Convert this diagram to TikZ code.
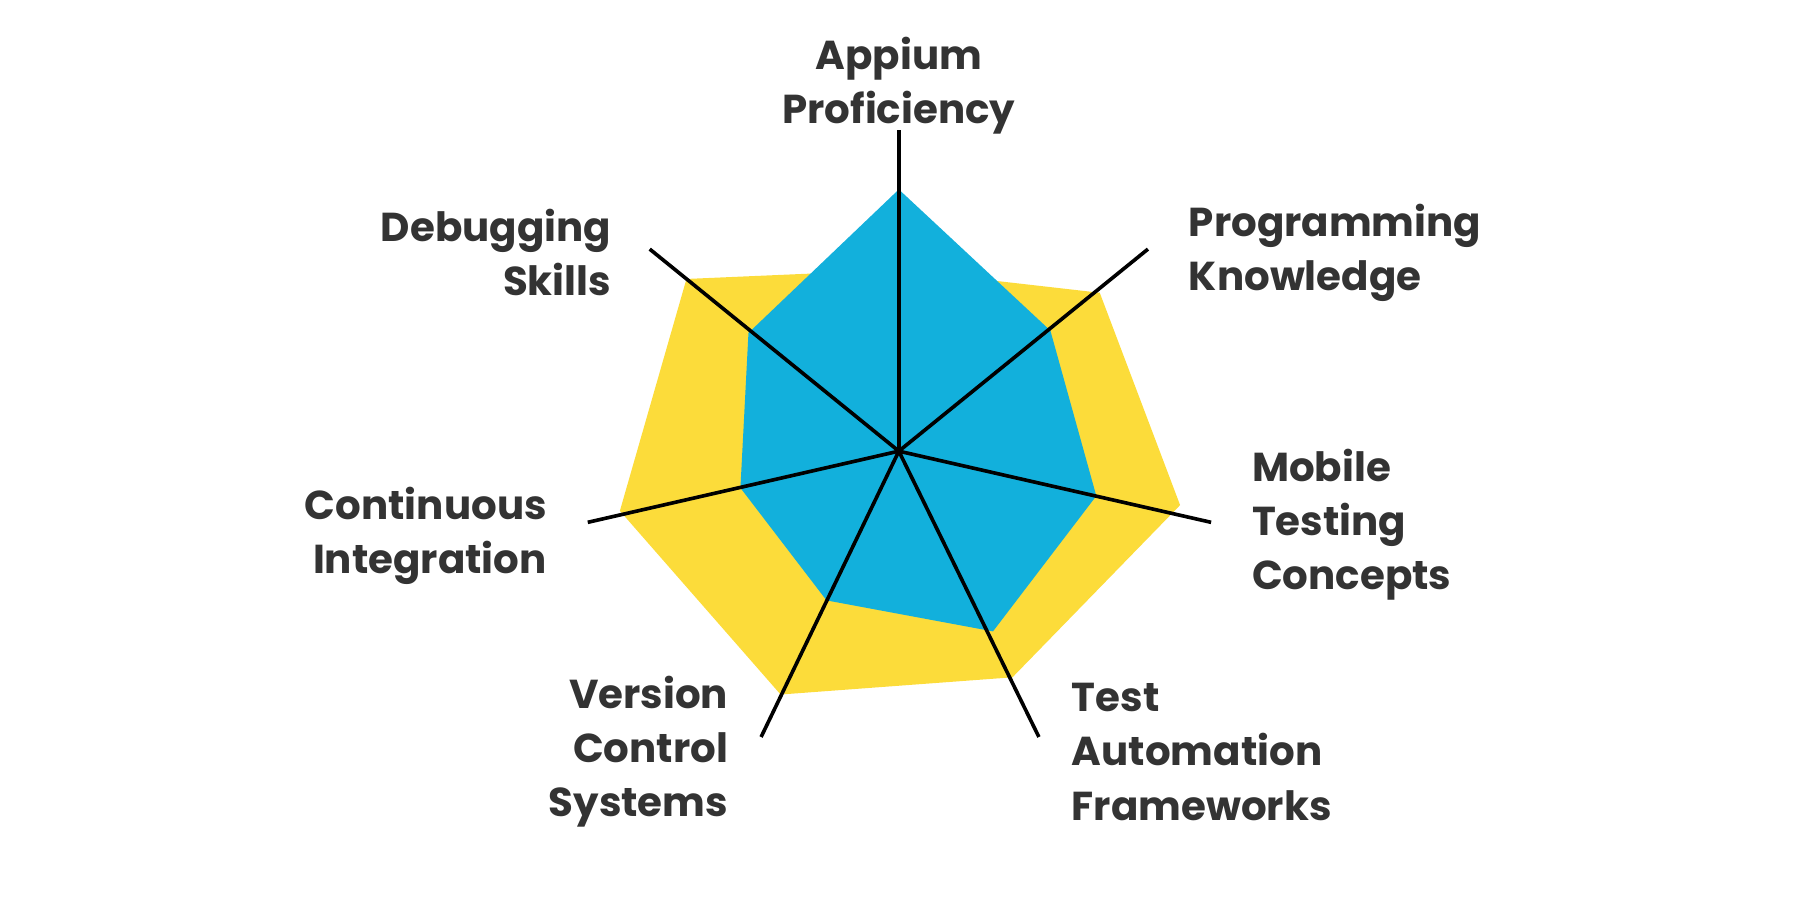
\documentclass[tikz,border=0pt]{standalone}
\usepackage{fontspec}
\setmainfont{Poppins}
\begin{document}
\begin{tikzpicture}[
            x=0.01cm, y=-0.01cm,
            axis/.style={
                line width=0.9pt, black
            },
            outer/.style={
                fill={rgb,255:red,252;green,220;blue,58}
            },
            inner/.style={
                fill={rgb,255:red,18;green,176;blue,220}
            },
            lbl/.style={
                text={rgb,255:red,51;green,51;blue,51},
                font=\fontsize{10}{13.4}\selectfont\bfseries,
                inner sep=0pt
            }
        ]
        \useasboundingbox (0,0) rectangle (1568,784);
        \fill[outer] (783,235) -- (958,255) -- (1028,440) -- (882,590)
            -- (680,605) -- (540,445) -- (598,243) -- cycle;
        \fill[inner] (783,165) -- (915,288) -- (955,432) -- (865,550)
            -- (720,523) -- (645,425) -- (652,290) -- cycle;

        \coordinate (c) at (783,393);
        \coordinate (appium) at (783,113);
        \coordinate (prog) at (1000,217);
        \coordinate (mobile) at (1055,455);
        \coordinate (auto) at (905,642);
        \coordinate (vcs) at (663,642);
        \coordinate (ci) at (512,455);
        \coordinate (debug) at (566,217);
        \foreach \p in {appium,prog,mobile,auto,vcs,ci,debug}
            \draw[axis] (c) -- (\p);

        \node[lbl, align=center] (tappium) at (783,75) {Appium\\Proficiency};
        \node[lbl, align=left, anchor=west] (tprog) at (1035,220) {Programming\\Knowledge};
        \node[lbl, align=left, anchor=west] (tmobile) at (1090,457) {Mobile\\Testing\\Concepts};
        \node[lbl, align=left, anchor=west] (tauto) at (933,655) {Test\\Automation\\Frameworks};
        \node[lbl, align=right, anchor=east] (tvcs) at (635,655) {Version\\Control\\Systems};
        \node[lbl, align=right, anchor=east] (tci) at (477,467) {Continuous\\Integration};
        \node[lbl, align=right, anchor=east] (tdebug) at (533,220) {Debugging\\Skills};
        \end{tikzpicture}
\end{document}
